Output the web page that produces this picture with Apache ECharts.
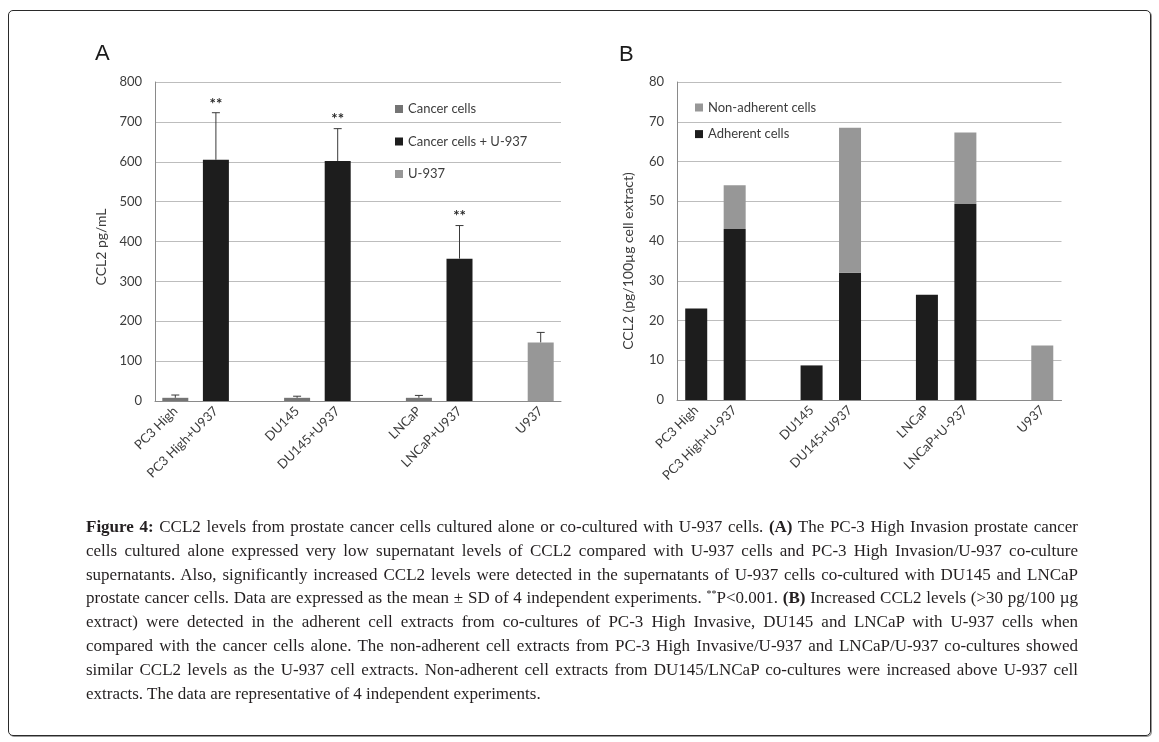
<!DOCTYPE html>
<html>
<head>
<meta charset="utf-8">
<script src="https://cdn.jsdelivr.net/npm/echarts@6/dist/echarts.min.js"></script>
<style>
  html, body { margin: 0; padding: 0; background: #fff; }
  #wrap { position: relative; width: 1159px; height: 742px; overflow: hidden; }
  #frame { position: absolute; left: 8px; top: 10px; width: 1143px; height: 726px;
           border: 1px solid #2a2a2a; border-radius: 5px; box-shadow: 1px 1px 0 #9a9a9a; box-sizing: border-box; }
  #chart { position: absolute; left: 0; top: 0; width: 1159px; height: 742px; }
  #caption { position: absolute; left: 86px; top: 515px; width: 992px;
             font-family: "Liberation Serif", "DejaVu Serif", serif; font-size: 17px;
             line-height: 23.8px; color: #231f20; }
  #caption .l { text-align: justify; text-align-last: justify; }
  #caption .last { text-align: left; text-align-last: left; }
  #caption sup { font-size: 10px; vertical-align: 6px; line-height: 0; }
</style>
</head>
<body>
<div id="wrap">
  <div id="frame"></div>
  <div id="chart"></div>
  <div id="caption">
    <div class="l"><b>Figure 4:</b> CCL2 levels from prostate cancer cells cultured alone or co-cultured with U-937 cells. <b>(A)</b> The PC-3 High Invasion prostate cancer</div>
    <div class="l">cells cultured alone expressed very low supernatant levels of CCL2 compared with U-937 cells and PC-3 High Invasion/U-937 co-culture</div>
    <div class="l">supernatants. Also, significantly increased CCL2 levels were detected in the supernatants of U-937 cells co-cultured with DU145 and LNCaP</div>
    <div class="l">prostate cancer cells. Data are expressed as the mean ± SD of 4 independent experiments. <sup>**</sup>P&lt;0.001. <b>(B)</b> Increased CCL2 levels (&gt;30 pg/100 µg</div>
    <div class="l">extract) were detected in the adherent cell extracts from co-cultures of PC-3 High Invasive, DU145 and LNCaP with U-937 cells when</div>
    <div class="l">compared with the cancer cells alone. The non-adherent cell extracts from PC-3 High Invasive/U-937 and LNCaP/U-937 co-cultures showed</div>
    <div class="l">similar CCL2 levels as the U-937 cell extracts. Non-adherent cell extracts from DU145/LNCaP co-cultures were increased above U-937 cell</div>
    <div class="l last">extracts. The data are representative of 4 independent experiments.</div>
  </div>
</div>
<script>
// ---------- Data ----------
// Panel A (blank strings are the empty spacer categories of the original)
const catsA = ['PC3 High', 'PC3 High+U937', '', 'DU145', 'DU145+U937', '', 'LNCaP', 'LNCaP+U937', '', 'U937'];
const cancerCells      = [8, null, null, 8, null, null, 8, null, null, null];
const cancerPlusU937   = [null, 605, null, null, 602, null, null, 357, null, null];
const u937Only         = [null, null, null, null, null, null, null, null, null, 147];
const errA             = [7, 118, null, 4, 81, null, 6, 83, null, 25];
const sigA             = ['', '**', '', '', '**', '', '', '**', '', ''];
const ticksA = { min: 0, max: 800, interval: 100 };

// Panel B
const catsB = ['PC3 High', 'PC3 High+U-937', '', 'DU145', 'DU145+U937', '', 'LNCaP', 'LNCaP+U-937', '', 'U937'];
const adherent    = [23, 43, null, 8.7, 32, null, 26.5, 49.3, null, null];
const nonAdherent = [null, 11, null, null, 36.5, null, null, 18, null, 13.7];
const ticksB = { min: 0, max: 80, interval: 10 };

// ---------- Styles ----------
const FONT = 'Lato, "Open Sans", "Liberation Sans", sans-serif';
const C_CANCER = '#747474', C_BLACK = '#1d1d1d', C_LIGHT = '#979797';
const TXT = '#3c3c3c';

const errData = [];
catsA.forEach((c, i) => {
  const v = [cancerCells[i], cancerPlusU937[i], u937Only[i]].find(x => x != null);
  if (v != null && errA[i] != null) errData.push([i, v, errA[i], sigA[i]]);
});

function xAxisCfg(cats, gridIndex) {
  return {
    type: 'category', gridIndex, data: cats,
    axisLine: { lineStyle: { color: '#8a8a8a', width: 1 } },
    axisTick: { show: false },
    axisLabel: { interval: 0, rotate: 45, margin: 8, color: TXT, fontFamily: FONT, fontSize: 13 }
  };
}
function yAxisCfg(t, gridIndex, name, gap, padR) {
  return {
    type: 'value', gridIndex, min: t.min, max: t.max, interval: t.interval,
    name, nameLocation: 'middle', nameGap: gap, nameRotate: 90,
    nameTextStyle: { color: TXT, fontFamily: FONT, fontSize: 14, padding: [0, padR, 0, 0] },
    axisLine: { show: true, lineStyle: { color: '#8a8a8a', width: 1 } },
    axisTick: { show: false },
    axisLabel: { color: TXT, fontFamily: FONT, fontSize: 13, margin: 13 },
    splitLine: { lineStyle: { color: '#bdbdbd', width: 1 } }
  };
}

const option = {
  animation: false,
  textStyle: { fontFamily: FONT },
  title: [
    { text: 'A', left: 90, top: 38, textStyle: { fontFamily: '"Liberation Sans", Arial, sans-serif', fontSize: 22, fontWeight: 'normal', color: '#1a1a1a' } },
    { text: 'B', left: 614, top: 39, textStyle: { fontFamily: '"Liberation Sans", Arial, sans-serif', fontSize: 22, fontWeight: 'normal', color: '#1a1a1a' } }
  ],
  legend: [
    { orient: 'vertical', left: 395, top: 101, padding: 0, itemWidth: 8, itemHeight: 8, itemGap: 16.5, icon: 'rect',
      textStyle: { color: TXT, fontFamily: FONT, fontSize: 13, lineHeight: 16 },
      data: ['Cancer cells', 'Cancer cells + U-937', 'U-937'] },
    { orient: 'vertical', left: 695, top: 99.5, padding: 0, itemWidth: 8, itemHeight: 8, itemGap: 10.6, icon: 'rect',
      textStyle: { color: TXT, fontFamily: FONT, fontSize: 13, lineHeight: 16 },
      data: ['Non-adherent cells', 'Adherent cells'] }
  ],
  grid: [
    { left: 155, right: 598, top: 82, bottom: 341 },
    { left: 677, right: 97.5, top: 82, bottom: 342 }
  ],
  xAxis: [xAxisCfg(catsA, 0), xAxisCfg(catsB, 1)],
  yAxis: [
    yAxisCfg(ticksA, 0, 'CCL2 pg/mL', 47, 11),
    yAxisCfg(ticksB, 1, 'CCL2 (pg/100µg cell extract)', 42, 40)
  ],
  series: [
    { name: 'Cancer cells', type: 'bar', xAxisIndex: 0, yAxisIndex: 0, barWidth: 26, barGap: '-100%',
      itemStyle: { color: C_CANCER }, data: cancerCells },
    { name: 'Cancer cells + U-937', type: 'bar', xAxisIndex: 0, yAxisIndex: 0, barWidth: 26, barGap: '-100%',
      itemStyle: { color: C_BLACK }, data: cancerPlusU937 },
    { name: 'U-937', type: 'bar', xAxisIndex: 0, yAxisIndex: 0, barWidth: 26, barGap: '-100%',
      itemStyle: { color: C_LIGHT }, data: u937Only },
    { name: 'err', type: 'custom', xAxisIndex: 0, yAxisIndex: 0, z: 5, silent: true,
      data: errData,
      renderItem: function (params, api) {
        const i = api.value(0), v = api.value(1), e = api.value(2);
        const s = errData[params.dataIndex][3];
        const p0 = api.coord([i, v]);
        const p1 = api.coord([i, v + e]);
        const st = { stroke: '#3a3a3a', lineWidth: 1 };
        const ch = [
          { type: 'line', shape: { x1: p0[0], y1: p0[1], x2: p1[0], y2: p1[1] }, style: st },
          { type: 'line', shape: { x1: p1[0] - 4, y1: p1[1], x2: p1[0] + 4, y2: p1[1] }, style: st }
        ];
        if (s) ch.push({ type: 'text', x: p1[0], y: p1[1] - 9,
          style: { text: s, fill: '#2a2a2a', font: 'bold 15px ' + FONT, align: 'center', verticalAlign: 'middle' } });
        return { type: 'group', children: ch };
      }
    },
    { name: 'Adherent cells', type: 'bar', xAxisIndex: 1, yAxisIndex: 1, stack: 'b', barWidth: 22,
      itemStyle: { color: C_BLACK }, data: adherent },
    { name: 'Non-adherent cells', type: 'bar', xAxisIndex: 1, yAxisIndex: 1, stack: 'b', barWidth: 22,
      itemStyle: { color: C_LIGHT }, data: nonAdherent }
  ]
};

const chart = echarts.init(document.getElementById('chart'), null, { renderer: 'canvas' });
chart.setOption(option);
</script>
</body>
</html>
